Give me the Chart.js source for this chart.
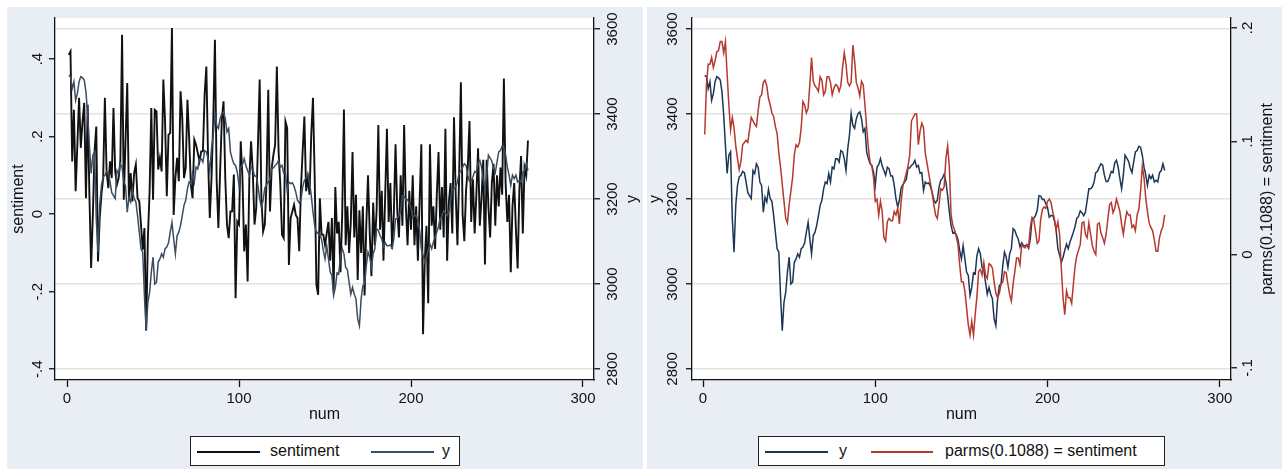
<!DOCTYPE html>
<html>
<head>
<meta charset="utf-8">
<script src="https://cdn.jsdelivr.net/npm/chart.js@4.4.1/dist/chart.umd.min.js"></script>
<style>
  body { margin: 0; background: #fff; width: 1282px; height: 469px; overflow: hidden; position: relative;
         font-family: "Liberation Sans", Arial, sans-serif; color: #111; }
  .panel { position: absolute; top: 7px; height: 462px; background: #e8eef3; }
  #left { left: 7px; width: 636px; }
  #right { left: 647px; width: 635px; }
  canvas { position: absolute; left: 0; top: 0; }
  .legend { position: absolute; top: 436px; height: 28px; border: 1px solid #222; background: #fff; }
  .legend .s { position: absolute; top: 14px; height: 2px; }
  .legend .t { position: absolute; top: 4px; font-size: 16px; line-height: 20px; white-space: nowrap; }
</style>
</head>
<body>
<div class="panel" id="left"><canvas id="cLeft" width="636" height="462"></canvas></div>
<div class="panel" id="right"><canvas id="cRight" width="635" height="462"></canvas></div>

<div class="legend" style="left:190px; width:268px;">
  <span class="s" style="left:6px; width:63px; background:#111;"></span>
  <span class="t" style="left:79px;">sentiment</span>
  <span class="s" style="left:180px; width:63px; background:#3b4d60;"></span>
  <span class="t" style="left:251px;">y</span>
</div>
<div class="legend" style="left:758px; width:405px;">
  <span class="s" style="left:6px; width:63px; background:#1e3656;"></span>
  <span class="t" style="left:80px;">y</span>
  <span class="s" style="left:112px; width:62px; background:#b5392e;"></span>
  <span class="t" style="left:186px;">parms(0.1088) = sentiment</span>
</div>

<script>
const family = '"Liberation Sans", Arial, sans-serif';

// observation index 1..268
const num = Array.from({ length: 268 }, (_, i) => i + 1);

const y = [
  3491,3488,3460,3476,3432,3448,3476,3488,3485,3480,
  3452,3397,3326,3260,3303,3311,3153,3075,3185,3232,
  3252,3256,3265,3262,3240,3215,3208,3201,3267,3260,
  3283,3275,3240,3232,3169,3204,3193,3223,3201,3194,
  3161,3122,3083,3075,2973,2890,2957,2980,3028,3063,
  3000,3004,3051,3059,3071,3063,3083,3087,3097,3122,
  3145,3106,3071,3114,3122,3138,3161,3185,3197,3224,
  3240,3236,3260,3240,3275,3271,3295,3295,3287,3314,
  3311,3295,3267,3318,3350,3401,3373,3366,3389,3401,
  3405,3389,3358,3366,3311,3295,3283,3279,3263,3232,
  3275,3281,3295,3278,3267,3256,3275,3271,3254,3254,
  3232,3201,3181,3197,3226,3234,3240,3246,3273,3273,
  3279,3283,3291,3275,3279,3260,3262,3220,3240,3236,
  3238,3230,3216,3197,3191,3197,3228,3244,3249,3259,
  3240,3208,3169,3138,3120,3122,3116,3105,3079,3059,
  3090,3059,3028,3020,2973,2992,3026,3024,3067,3083,
  3071,3039,3034,3004,2976,2992,2976,2965,2918,2902,
  2965,2996,3000,3043,3075,3063,3039,3071,3083,3130,
  3126,3114,3106,3087,3097,3090,3090,3092,3084,3106,
  3153,3155,3161,3173,3208,3207,3199,3199,3189,3180,
  3157,3161,3161,3149,3126,3083,3068,3051,3063,3079,
  3094,3083,3098,3110,3122,3136,3155,3159,3172,3168,
  3161,3169,3197,3224,3224,3228,3240,3262,3265,3275,
  3283,3279,3256,3241,3241,3252,3265,3262,3285,3291,
  3275,3248,3224,3256,3303,3296,3289,3273,3262,3287,
  3311,3314,3324,3322,3303,3275,3257,3232,3256,3248,
  3256,3240,3244,3240,3262,3267,3283,3267
];

const sentiment = [
  0.411,0.420,0.136,0.269,0.059,0.179,0.300,0.171,0.239,0.287,
  0.041,0.282,0.050,-0.139,-0.002,0.162,0.226,-0.122,-0.010,0.050,
  0.093,0.300,0.110,0.067,0.136,0.093,0.274,0.110,0.076,0.093,
  0.136,0.463,0.037,0.188,0.338,0.033,0.106,0.033,0.106,0.128,
  0.041,0.033,-0.027,-0.092,-0.036,-0.300,-0.062,0.059,0.274,0.037,
  0.269,0.265,0.115,0.145,0.110,0.347,0.239,0.046,0.205,0.209,
  0.480,-0.002,0.093,0.145,0.085,0.317,0.248,0.093,0.119,0.295,
  0.196,0.076,0.041,0.192,0.179,0.158,0.136,0.162,0.162,0.308,
  0.381,0.145,-0.010,0.093,0.239,0.450,0.085,-0.036,0.110,0.244,
  0.291,0.093,-0.027,-0.062,0.007,0.007,0.102,-0.217,-0.019,-0.027,
  0.188,0.093,-0.096,-0.027,-0.174,0.093,0.188,0.110,-0.027,0.016,
  0.179,0.347,0.041,-0.045,-0.027,0.085,0.321,0.007,0.119,0.153,
  0.179,0.381,0.162,0.076,-0.053,-0.062,0.239,0.222,-0.131,-0.010,
  0.007,0.024,-0.002,-0.010,-0.096,0.067,0.162,0.252,0.059,0.093,
  0.050,0.205,0.300,0.093,-0.182,-0.208,0.041,-0.053,-0.053,-0.079,
  -0.05,-0.02,-0.12,-0.01,-0.20,0.07,-0.05,-0.02,-0.15,0.00,
  0.27,-0.08,0.02,-0.10,-0.02,0.16,-0.06,0.05,-0.17,0.01,
  -0.10,0.02,-0.21,-0.03,0.10,-0.05,-0.16,0.03,-0.08,0.01,
  0.23,-0.04,0.06,-0.12,0.05,0.22,-0.02,0.08,-0.09,0.00,
  0.18,0.01,-0.06,0.10,-0.03,0.23,0.02,-0.08,0.06,-0.04,
  0.10,-0.08,0.02,-0.12,0.03,0.18,-0.31,-0.12,-0.03,-0.23,
  0.18,-0.03,0.02,-0.09,0.05,0.16,-0.04,0.07,-0.06,0.22,
  -0.12,0.03,0.08,-0.05,0.25,0.05,-0.08,0.10,0.34,0.00,
  -0.07,0.06,0.12,0.24,-0.02,0.09,-0.05,0.05,0.17,-0.03,
  0.04,0.14,-0.13,0.14,0.02,-0.06,0.08,0.13,-0.03,0.10,
  0.02,0.12,0.05,0.35,0.08,-0.02,0.05,-0.15,0.02,0.08,
  -0.04,-0.14,0.06,0.15,-0.05,0.12,0.10,0.19
];

const parms = [
  0.106,0.150,0.168,0.168,0.174,0.165,0.171,0.179,0.180,0.188,
  0.188,0.178,0.188,0.159,0.132,0.110,0.121,0.112,0.096,0.085,
  0.075,0.082,0.097,0.099,0.101,0.099,0.110,0.121,0.118,0.115,
  0.113,0.127,0.139,0.141,0.152,0.154,0.149,0.138,0.132,0.125,
  0.122,0.113,0.107,0.090,0.077,0.062,0.047,0.032,0.028,0.044,
  0.056,0.068,0.088,0.097,0.095,0.099,0.112,0.135,0.132,0.125,
  0.129,0.150,0.174,0.153,0.149,0.147,0.144,0.157,0.154,0.141,
  0.144,0.157,0.157,0.152,0.141,0.147,0.150,0.149,0.144,0.149,
  0.165,0.178,0.168,0.152,0.149,0.152,0.185,0.171,0.152,0.147,
  0.140,0.153,0.150,0.132,0.112,0.094,0.081,0.078,0.068,0.047,
  0.049,0.035,0.047,0.038,0.015,0.012,0.029,0.032,0.030,0.030,
  0.038,0.035,0.041,0.027,0.047,0.060,0.066,0.072,0.078,0.088,
  0.118,0.121,0.124,0.124,0.097,0.109,0.116,0.112,0.090,0.081,
  0.072,0.063,0.054,0.044,0.035,0.032,0.044,0.058,0.057,0.060,
  0.085,0.096,0.077,0.035,0.026,0.022,0.016,0.009,-0.009,-0.024,
  -0.024,-0.032,-0.047,-0.062,-0.071,-0.059,-0.071,-0.053,-0.037,-0.015,
  -0.013,-0.018,-0.007,-0.018,-0.021,-0.008,-0.009,-0.012,-0.024,-0.034,
  -0.038,-0.034,-0.026,-0.024,-0.015,-0.016,-0.026,-0.035,-0.041,-0.026,
  -0.015,-0.003,-0.003,-0.009,0.009,0.007,0.006,0.009,0.007,0.024,
  0.033,0.031,0.021,0.010,0.012,0.031,0.040,0.042,0.041,0.047,
  0.049,0.046,0.038,0.031,0.022,0.029,0.018,-0.012,-0.038,-0.053,
  -0.032,-0.038,-0.038,-0.043,-0.026,-0.010,-0.001,0.004,0.009,0.028,
  0.029,0.018,0.015,0.028,0.018,0.008,0.003,0.000,0.027,0.028,
  0.019,0.015,0.010,0.018,0.031,0.044,0.046,0.037,0.041,0.049,
  0.044,0.038,0.027,0.018,0.029,0.038,0.035,0.035,0.024,0.026,
  0.021,0.035,0.040,0.056,0.078,0.068,0.050,0.038,0.028,0.024,
  0.021,0.013,0.003,0.003,0.015,0.021,0.025,0.035
];

const numTicks = [0, 100, 200, 300];
const numTickLabels = ['0', '100', '200', '300'];
const sentimentTicks = [-0.4, -0.2, 0, 0.2, 0.4];
const sentimentTickLabels = ['-.4', '-.2', '0', '.2', '.4'];
const yTicks = [2800, 3000, 3200, 3400, 3600];
const yTickLabels = ['2800', '3000', '3200', '3400', '3600'];
const parmsTicks = [-0.1, 0, 0.1, 0.2];
const parmsTickLabels = ['-.1', '0', '.1', '.2'];


// white plot region
const plotBg = {
    id: 'plotBg',
    beforeDraw(chart) {
        const { ctx, chartArea: a } = chart;
        ctx.save();
        ctx.fillStyle = '#fff';
        ctx.fillRect(a.left, a.top, a.right - a.left, a.bottom - a.top);
        ctx.restore();
    }
};

function vtext(ctx, text, x, yy) {
    ctx.save();
    ctx.translate(x, yy);
    ctx.rotate(-Math.PI / 2);
    ctx.fillText(text, 0, 0);
    ctx.restore();
}

// rotated y labels and axis titles, Stata style
const axisText = {
    id: 'axisText',
    afterDraw(chart, args, o) {
        const { ctx, chartArea: a } = chart;
        ctx.save();
        ctx.fillStyle = '#111';
        ctx.textAlign = 'center';
        ctx.textBaseline = 'middle';

        o.axes.forEach(ax => {
            const s = chart.scales[ax.id];
            const x = ax.side === 'left' ? a.left - ax.labelGap : a.right + ax.labelGap;
            ctx.font = '15px ' + family;
            ax.values.forEach((v, i) => vtext(ctx, ax.labels[i], x, s.getPixelForValue(v)));

            const tx = ax.side === 'left' ? a.left - ax.titleGap : a.right + ax.titleGap;
            ctx.font = '16px ' + family;
            vtext(ctx, ax.title, tx, (a.top + a.bottom) / 2);
        });

        ctx.font = '16px ' + family;
        ctx.fillText(o.xTitle, (a.left + a.right) / 2, a.bottom + 35);
        ctx.restore();
    }
};

function xScale(min, max) {
    return {
        type: 'linear',
        position: 'bottom',
        min: min,
        max: max,
        afterBuildTicks: s => { s.ticks = numTicks.map(v => ({ value: v })); },
        afterFit: s => { s.height = 89; },
        grid: { drawOnChartArea: false, tickLength: 7, tickColor: '#111', tickWidth: 1.3 },
        border: { color: '#111', width: 1.3 },
        ticks: {
            color: '#111',
            padding: 3,
            maxRotation: 0,
            autoSkip: false,
            font: { size: 15, family: family },
            callback: (v, i) => numTickLabels[i]
        }
    };
}

function yScale(pos, min, max, tickValues, width, gridOn) {
    return {
        type: 'linear',
        position: pos,
        min: min,
        max: max,
        afterBuildTicks: s => { s.ticks = tickValues.map(v => ({ value: v })); },
        afterFit: s => { s.width = width; },
        grid: {
            drawOnChartArea: gridOn,
            color: '#e2e2e2',
            lineWidth: 1.5,
            tickLength: 6,
            tickColor: '#111',
            tickWidth: 1.3
        },
        border: { color: '#111', width: 1.3 },
        ticks: { display: false }
    };
}

const common = {
    responsive: false,
    animation: false,
    layout: { padding: { top: 11 } },
    elements: { point: { radius: 0 }, line: { tension: 0 } }
};

new Chart(document.getElementById('cLeft'), {
    type: 'line',
    data: {
        labels: num,
        datasets: [
            { label: 'y', data: y, yAxisID: 'yR', borderColor: '#3b4d60', borderWidth: 1.5 },
            { label: 'sentiment', data: sentiment, yAxisID: 'yL', borderColor: '#111', borderWidth: 1.9 }
        ]
    },
    options: {
        ...common,
        plugins: {
            legend: { display: false },
            tooltip: { enabled: false },
            axisText: {
                xTitle: 'num',
                axes: [
                    { id: 'yL', side: 'left', values: sentimentTicks, labels: sentimentTickLabels, labelGap: 17, title: 'sentiment', titleGap: 36 },
                    { id: 'yR', side: 'right', values: yTicks, labels: yTickLabels, labelGap: 19, title: 'y', titleGap: 39 }
                ]
            }
        },
        scales: {
            x: xScale(-7, 306.4),
            yL: yScale('left', -0.428, 0.506, sentimentTicks, 48, false),
            yR: yScale('right', 2774, 3626, yTicks, 49, true)
        }
    },
    plugins: [plotBg, axisText]
});

new Chart(document.getElementById('cRight'), {
    type: 'line',
    data: {
        labels: num,
        datasets: [
            { label: 'parms(0.1088) = sentiment', data: parms, yAxisID: 'yR', borderColor: '#b5392e', borderWidth: 1.5 },
            { label: 'y', data: y, yAxisID: 'yL', borderColor: '#1e3656', borderWidth: 1.5 }
        ]
    },
    options: {
        ...common,
        plugins: {
            legend: { display: false },
            tooltip: { enabled: false },
            axisText: {
                xTitle: 'num',
                axes: [
                    { id: 'yL', side: 'left', values: yTicks, labels: yTickLabels, labelGap: 19, title: 'y', titleGap: 36 },
                    { id: 'yR', side: 'right', values: parmsTicks, labels: parmsTickLabels, labelGap: 17, title: 'parms(0.1088) = sentiment', titleGap: 37 }
                ]
            }
        },
        scales: {
            x: xScale(-6.4, 306.5),
            yL: yScale('left', 2774, 3626, yTicks, 45, true),
            yR: yScale('right', -0.1106, 0.2088, parmsTicks, 51, false)
        }
    },
    plugins: [plotBg, axisText]
});
</script>
</body>
</html>
